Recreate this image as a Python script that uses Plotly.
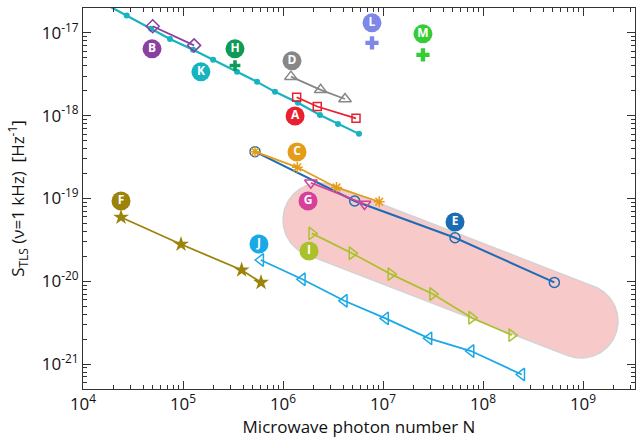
import numpy as np
import plotly.graph_objects as go

# ---------------- data (N = photon number, S = S_TLS at 1 kHz, Hz^-1) ----------------
A_N = [1.37e6, 2.2e6, 5.37e6]
A_S = [1.67e-18, 1.29e-18, 9.3e-19]
B_N = [4.98e4, 1.29e5]
B_S = [1.2e-17, 7.06e-18]
C_N = [5.25e5, 1.39e6, 3.43e6, 9.18e6]
C_S = [3.68e-19, 2.38e-19, 1.36e-19, 9.14e-20]
D_N = [1.2e6, 2.38e6, 4.17e6]
D_S = [2.96e-18, 2.05e-18, 1.59e-18]
E_N = [5.25e5, 5.21e6, 5.25e7, 5.17e8]
E_S = [3.68e-19, 9.33e-20, 3.36e-20, 9.7e-21]
F_N = [2.4e4, 9.55e4, 3.86e5, 6.03e5]
F_S = [5.93e-20, 2.8e-20, 1.37e-20, 9.7e-21]
G_N = [1.9e6, 6.53e6]
G_S = [1.55e-19, 8.59e-20]
H_N = [3.31e5]
H_S = [4.03e-18]
I_N = [1.94e6, 4.9e6, 1.2e7, 3.14e7, 7.7e7, 1.94e8]
I_S = [3.79e-20, 2.18e-20, 1.22e-20, 7.02e-21, 3.63e-21, 2.24e-21]
J_N = [5.98e5, 1.56e6, 4.1e6, 1.06e7, 2.88e7, 7.59e7, 2.44e8]
J_S = [1.81e-20, 1.06e-20, 5.82e-21, 3.57e-21, 2.05e-21, 1.44e-21, 7.5e-22]
K_N = [1.62e4, 2.735e4, 4.79e4, 7.41e4, 1.26e5, 2.0e5, 3.47e5, 5.5e5, 8.32e5,
       1.41e6, 2.34e6, 3.55e6, 5.75e6]
K_S = [2.27e-17, 1.62e-17, 1.12e-17, 8.45e-18, 6.24e-18, 4.72e-18, 3.38e-18,
       2.56e-18, 1.94e-18, 1.43e-18, 1.02e-18, 7.94e-19, 6.03e-19]
L_N = [7.76e6]
L_S = [7.57e-18]
M_N = [2.51e7]
M_S = [5.42e-18]

# label badges (letter, N, S)
LABELS = ["A", "B", "C", "D", "E", "F", "G", "H", "I", "J", "K", "L", "M"]
LABEL_N = [1.32e6, 4.9e4, 1.38e6, 1.23e6, 5.25e7, 2.4e4, 1.78e6, 3.31e5, 1.82e6, 5.75e5, 1.51e5, 7.76e6, 2.51e7]
LABEL_S = [9.93e-19, 6.41e-18, 3.65e-19, 4.59e-18, 5.2e-20, 9.33e-20, 9.33e-20, 6.41e-18, 2.32e-20, 2.82e-20, 3.38e-18, 1.32e-17, 9.72e-18]

# highlight capsule (log10 N, log10 S of the two end centres, radius in x-decades)
CAP_C1 = (6.37, -19.26)
CAP_C2 = (8.98, -20.48)
CAP_R = 0.37

X_TICKS = [1e4, 1e5, 1e6, 1e7, 1e8, 1e9]
X_TICKTEXT = ["10<sup>4</sup>", "10<sup>5</sup>", "10<sup>6</sup>", "10<sup>7</sup>", "10<sup>8</sup>", "10<sup>9</sup>"]
Y_TICKS = [1e-21, 1e-20, 1e-19, 1e-18, 1e-17]
Y_TICKTEXT = ["10<sup>-21</sup>", "10<sup>-20</sup>", "10<sup>-19</sup>", "10<sup>-18</sup>", "10<sup>-17</sup>"]

COL = {
    "A": "#e8202f", "B": "#8b3f9e", "C": "#e59c18", "D": "#878787",
    "E": "#1a6db5", "F": "#9c830c", "G": "#d6409a", "H": "#0f9a55",
    "I": "#abc12c", "J": "#1aa9e6", "K": "#16b3c0", "L": "#7f88e8", "M": "#35cc35",
}

W, H = 639, 443
ML, MR, MT, MB = 83, 4, 8, 54
XR = [4.0, 9.52]
YR = [-21.3, -16.7]

fig = go.Figure()

# capsule highlight
plot_w = W - ML - MR
plot_h = H - MT - MB
sx = plot_w / (XR[1] - XR[0])
sy = plot_h / (YR[1] - YR[0])
p1 = np.array([CAP_C1[0] * sx, CAP_C1[1] * sy])
p2 = np.array([CAP_C2[0] * sx, CAP_C2[1] * sy])
d = p2 - p1
ang = np.arctan2(d[1], d[0])
rp = CAP_R * sx
t1 = np.linspace(ang + np.pi / 2, ang + 3 * np.pi / 2, 80)
t2 = np.linspace(ang - np.pi / 2, ang + np.pi / 2, 80)
px = np.concatenate([p1[0] + rp * np.cos(t1), p2[0] + rp * np.cos(t2), [p1[0] + rp * np.cos(t1[0])]])
py = np.concatenate([p1[1] + rp * np.sin(t1), p2[1] + rp * np.sin(t2), [p1[1] + rp * np.sin(t1[0])]])
fig.add_trace(go.Scatter(x=10 ** (px / sx), y=10 ** (py / sy), mode="lines", fill="toself",
                         fillcolor="#f7c9c9", line=dict(color="#d3d3d3", width=1.5),
                         hoverinfo="skip", showlegend=False))


def series(xs, ys, key, symbol, size, lw=1.8, mlw=1.5):
    c = COL[key]
    fig.add_trace(go.Scatter(
        x=xs, y=ys, mode="lines+markers", name=key,
        line=dict(color=c, width=lw),
        marker=dict(symbol=symbol, size=size, color=c, line=dict(color=c, width=mlw)),
        showlegend=False))


series(K_N, K_S, "K", "circle", 6, lw=2.2, mlw=0)
series(B_N, B_S, "B", "diamond-open", 10)
series(D_N, D_S, "D", "triangle-up-open", 11)
series(A_N, A_S, "A", "square-open", 8)
series(E_N, E_S, "E", "circle-open", 10, lw=2)
series(C_N, C_S, "C", "asterisk-open", 9)
series(G_N, G_S, "G", "triangle-down-open", 11)
series(F_N, F_S, "F", "star", 12, mlw=0)
series(J_N, J_S, "J", "triangle-left-open", 11)
series(I_N, I_S, "I", "triangle-right-open", 11)

for xs, ys, key in [(H_N, H_S, "H"), (L_N, L_S, "L"), (M_N, M_S, "M")]:
    fig.add_trace(go.Scatter(x=xs, y=ys, mode="markers",
                             marker=dict(symbol="cross", size=11 if key != "H" else 9, color=COL[key],
                                         line=dict(width=0)),
                             showlegend=False))

# badges
fig.add_trace(go.Scatter(
    x=LABEL_N, y=LABEL_S, mode="markers+text", text=LABELS,
    textposition="middle center",
    textfont=dict(family="Open Sans", size=12, color="white", weight="bold"),
    marker=dict(size=19, color=[COL[k] for k in LABELS], line=dict(width=0)),
    cliponaxis=False, showlegend=False))

minor_x = [m * 10 ** e for e in range(4, 10) for m in range(2, 10)]
minor_y = [m * 10 ** e for e in range(-22, -16) for m in range(2, 10)]

axis_common = dict(type="log", showgrid=False, zeroline=False, showline=True,
                   linecolor="#333", linewidth=1, mirror="ticks", ticks="inside",
                   ticklen=8, tickcolor="#333", tickwidth=1, automargin=False,
                   tickfont=dict(family="Open Sans", size=17, color="#111"))

fig.update_xaxes(**axis_common, range=XR, tickmode="array", tickvals=X_TICKS, ticktext=X_TICKTEXT,
                 minor=dict(tickmode="array", tickvals=minor_x, ticks="inside", ticklen=4,
                            tickcolor="#333", showgrid=False),
                 title=dict(text="Microwave photon number N", font=dict(family="Open Sans", size=17, color="#111"),
                            standoff=4))
fig.update_yaxes(**axis_common, range=YR, tickmode="array", tickvals=Y_TICKS, ticktext=Y_TICKTEXT,
                 minor=dict(tickmode="array", tickvals=minor_y, ticks="inside", ticklen=4,
                            tickcolor="#333", showgrid=False),
                 title=dict(text="S<sub>TLS</sub> (ν=1 kHz)  [Hz<sup>-1</sup>]",
                            font=dict(family="Open Sans", size=17, color="#111"), standoff=12))

fig.update_layout(width=W, height=H, margin=dict(l=ML, r=MR, t=MT, b=MB),
                  paper_bgcolor="white", plot_bgcolor="white", showlegend=False,
                  font=dict(family="Open Sans"))

fig.write_html("out.html", config={"displayModeBar": False},
               post_script="document.body.style.margin='0px';")
